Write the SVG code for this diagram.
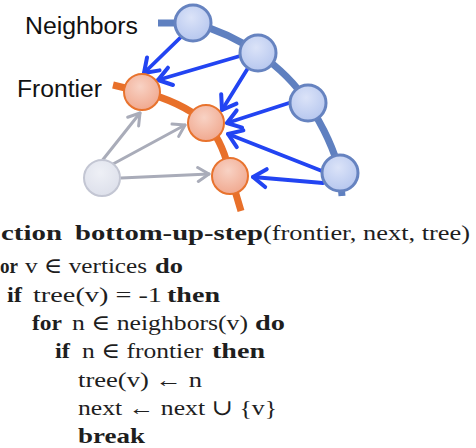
<svg xmlns="http://www.w3.org/2000/svg" width="476" height="448" viewBox="0 0 476 448">
  <defs>
    <radialGradient id="gBlue" cx="0.45" cy="0.35" r="0.7">
      <stop offset="0" stop-color="#dbe3f8"/>
      <stop offset="1" stop-color="#b4c5ee"/>
    </radialGradient>
    <radialGradient id="gOrange" cx="0.45" cy="0.35" r="0.7">
      <stop offset="0" stop-color="#f8d2c4"/>
      <stop offset="1" stop-color="#f0a68c"/>
    </radialGradient>
    <radialGradient id="gGray" cx="0.45" cy="0.35" r="0.7">
      <stop offset="0" stop-color="#eef0f6"/>
      <stop offset="1" stop-color="#dcdfea"/>
    </radialGradient>
    <marker id="headBlue" markerUnits="userSpaceOnUse" viewBox="-16 -12 18 24" refX="0" refY="0" markerWidth="18" markerHeight="24" orient="auto">
      <path d="M-13,-9 L0,0 L-13,9" fill="none" stroke="#2244f2" stroke-width="4" stroke-linecap="round" stroke-linejoin="round"/>
    </marker>
    <marker id="headGray" markerUnits="userSpaceOnUse" viewBox="-14 -10 16 20" refX="0" refY="0" markerWidth="16" markerHeight="20" orient="auto">
      <path d="M-11,-7 L0,0 L-11,7" fill="none" stroke="#a9acb9" stroke-width="3" stroke-linecap="round" stroke-linejoin="round"/>
    </marker>
  </defs>
  <style>
    .label { font-family: "Liberation Sans", Arial, sans-serif; font-size: 23px; fill: #111; }
    .code { font-family: "Liberation Serif", "DejaVu Serif", serif; font-size: 22px; fill: #1e1e1e; }
    .kw { font-weight: bold; }
    .nb { fill: url(#gBlue); stroke: #6683c0; stroke-width: 3; }
    .nf { fill: url(#gOrange); stroke: #e8732e; stroke-width: 2; }
    .ng { fill: url(#gGray); stroke: #c3c6d3; stroke-width: 2; }
    .eb { fill: none; stroke: #2244f2; stroke-width: 3.8; stroke-linecap: round; marker-end: url(#headBlue); }
    .eg { fill: none; stroke: #a9acb9; stroke-width: 3; stroke-linecap: round; marker-end: url(#headGray); }
  </style>

  <rect width="476" height="448" fill="#ffffff"/>

  <!-- layer curves -->
  <g id="layers">
    <path d="M158,23 L193,23 Q230,33 258,53 Q290,75 308,103 Q332,140 340,173 L342,196" fill="none" stroke="#5f80c0" stroke-width="7"/>
    <path d="M113,85 L142,92 Q180,101 207,123 Q225,146 230,176 Q236,193 241,211" fill="none" stroke="#e8702a" stroke-width="7"/>
  </g>

  <!-- connectors -->
  <g id="connectors">
    <line class="eb" x1="181" y1="37" x2="144" y2="73"/>
    <line class="eb" x1="240" y1="56" x2="158" y2="80"/>
    <line class="eb" x1="248" y1="68" x2="222" y2="110"/>
    <line class="eb" x1="289" y1="103" x2="227" y2="123"/>
    <line class="eb" x1="322" y1="171" x2="228" y2="134"/>
    <line class="eb" x1="323" y1="183" x2="253" y2="177"/>
    <line class="eg" x1="101" y1="162" x2="140" y2="113"/>
    <line class="eg" x1="113" y1="164" x2="185" y2="125"/>
    <line class="eg" x1="121" y1="178" x2="209" y2="174"/>
  </g>

  <!-- neighbor vertices -->
  <g id="n1"><circle class="nb" cx="193" cy="23" r="18"/></g>
  <g id="n2"><circle class="nb" cx="258" cy="53" r="18"/></g>
  <g id="n3"><circle class="nb" cx="308" cy="103" r="18"/></g>
  <g id="n4"><circle class="nb" cx="340" cy="173" r="18"/></g>

  <!-- frontier vertices -->
  <g id="f1"><circle class="nf" cx="142" cy="92" r="18"/></g>
  <g id="f2"><circle class="nf" cx="206" cy="123" r="18"/></g>
  <g id="f3"><circle class="nf" cx="230" cy="176" r="18"/></g>

  <!-- unvisited vertex -->
  <g id="u1"><circle class="ng" cx="102" cy="178" r="18"/></g>

  <!-- labels -->
  <g id="labels">
    <text class="label" x="25" y="34" textLength="113" lengthAdjust="spacingAndGlyphs">Neighbors</text>
    <text class="label" x="17" y="97" textLength="85" lengthAdjust="spacingAndGlyphs">Frontier</text>
  </g>

  <!-- pseudocode -->
  <g id="code" class="code">
    <text x="1" y="240" class="kw" textLength="61" lengthAdjust="spacingAndGlyphs">ction</text>
    <text x="75" y="240" class="kw" textLength="188" lengthAdjust="spacingAndGlyphs">bottom-up-step</text>
    <text x="263" y="240" textLength="207" lengthAdjust="spacingAndGlyphs">(frontier, next, tree)</text>

    <text x="0" y="273" class="kw" textLength="18" lengthAdjust="spacingAndGlyphs">or</text>
    <text x="25" y="273" textLength="122" lengthAdjust="spacingAndGlyphs">v ∈ vertices</text>
    <text x="155" y="273" class="kw" textLength="28" lengthAdjust="spacingAndGlyphs">do</text>

    <text x="7" y="302" class="kw" textLength="15" lengthAdjust="spacingAndGlyphs">if</text>
    <text x="33" y="302" textLength="129" lengthAdjust="spacingAndGlyphs">tree(v) = -1</text>
    <text x="167" y="302" class="kw" textLength="53" lengthAdjust="spacingAndGlyphs">then</text>

    <text x="32" y="330" class="kw" textLength="30" lengthAdjust="spacingAndGlyphs">for</text>
    <text x="72" y="330" textLength="176" lengthAdjust="spacingAndGlyphs">n ∈ neighbors(v)</text>
    <text x="255" y="330" class="kw" textLength="30" lengthAdjust="spacingAndGlyphs">do</text>

    <text x="55" y="358" class="kw" textLength="15" lengthAdjust="spacingAndGlyphs">if</text>
    <text x="82" y="358" textLength="121" lengthAdjust="spacingAndGlyphs">n ∈ frontier</text>
    <text x="212" y="358" class="kw" textLength="53" lengthAdjust="spacingAndGlyphs">then</text>

    <text x="78" y="387" textLength="124" lengthAdjust="spacingAndGlyphs">tree(v) ← n</text>
    <text x="78" y="415" textLength="199" lengthAdjust="spacingAndGlyphs">next ← next ∪ {v}</text>
    <text x="78" y="443" class="kw" textLength="67" lengthAdjust="spacingAndGlyphs">break</text>
  </g>
</svg>
